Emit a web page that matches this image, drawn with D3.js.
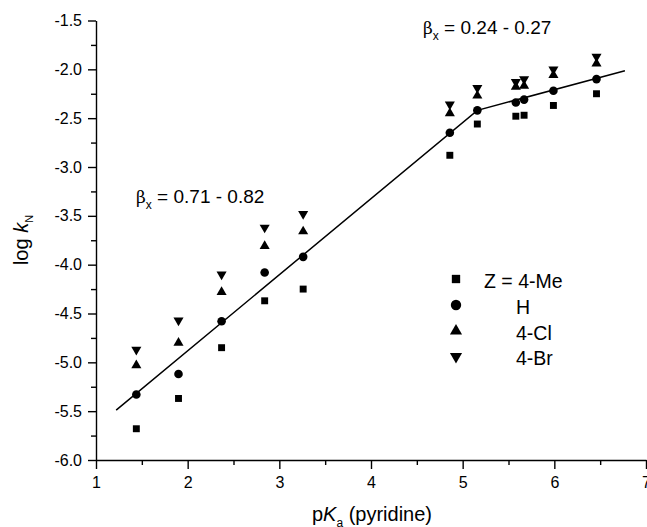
<!DOCTYPE html>
<html>
<head>
<meta charset="utf-8">
<script src="https://cdn.jsdelivr.net/npm/d3@7"></script>
<style>
  body { margin: 0; background: #fff; }
  text { font-family: Arial, "Liberation Sans", Helvetica, sans-serif; fill: #000; }
</style>
</head>
<body>
<script>
//data
var pKa = [1.44, 1.90, 2.37, 2.84, 3.26, 4.86, 5.16, 5.58, 5.67, 5.99, 6.46];
var logMe = [-5.68, -5.37, -4.85, -4.37, -4.25, -2.88, -2.56, -2.48, -2.47, -2.37, -2.25];
var logH  = [-5.33, -5.12, -4.58, -4.08, -3.92, -2.65, -2.42, -2.34, -2.31, -2.22, -2.10];
var logCl = [-5.03, -4.80, -4.28, -3.81, -3.66, -2.45, -2.27, -2.18, -2.17, -2.06, -1.94];
var logBr = [-4.87, -4.57, -4.10, -3.62, -3.48, -2.36, -2.19, -2.13, -2.10, -2.00, -1.87];

//broken line fit
var fitX = [1.22, 5.16, 6.77];
var fitY = [-5.49, -2.42, -2.015];

var seriesNames = ["Z = 4-Me", "H", "4-Cl", "4-Br"];
var xTicks = [1, 2, 3, 4, 5, 6, 7];
var yTicks = [-6.0, -5.5, -5.0, -4.5, -4.0, -3.5, -3.0, -2.5, -2.0, -1.5];

var width = 647;
var height = 527;

var svg = d3.select("body").append("svg")
    .attr("width", width)
    .attr("height", height);

var x = d3.scaleLinear().domain([1, 7]).range([96, 646]);
var y = d3.scaleLinear().domain([-6, -1.5]).range([460, 20.5]);

//plain hyphen for negative labels, like the original
var fmtY = function (d) { return d3.format(".1f")(d).replace("\u2212", "-"); };

//minor ticks first, then major axes on top
var minorX = d3.range(1.5, 7, 1);
var minorY = d3.range(-5.75, -1.5, 0.5);

svg.append("g")
    .attr("transform", "translate(0,460)")
    .call(d3.axisBottom(x).tickValues(minorX).tickSize(5).tickFormat(""))
    .call(function (g) { g.select(".domain").remove(); });

svg.append("g")
    .attr("transform", "translate(96,0)")
    .call(d3.axisLeft(y).tickValues(minorY).tickSize(5).tickFormat(""))
    .call(function (g) { g.select(".domain").remove(); });

svg.append("g")
    .attr("transform", "translate(0,460)")
    .call(d3.axisBottom(x).tickValues(xTicks).tickSize(9).tickSizeOuter(0).tickPadding(8).tickFormat(d3.format("d")));

svg.append("g")
    .attr("transform", "translate(96,0)")
    .call(d3.axisLeft(y).tickValues(yTicks).tickSize(8).tickSizeOuter(0).tickPadding(6).tickFormat(fmtY));

svg.selectAll(".domain, .tick line").attr("stroke", "#000").attr("stroke-width", 1.4);
svg.selectAll(".tick text").style("font-size", "16px").attr("fill", "#000");

//axis titles
var yTitle = svg.append("text")
    .attr("transform", "translate(28,240) rotate(-90)")
    .attr("text-anchor", "middle")
    .style("font-size", "20px");
yTitle.append("tspan").text("log ");
yTitle.append("tspan").style("font-style", "italic").text("k");
yTitle.append("tspan").attr("dy", 5).style("font-size", "11px").text("N");

var xTitle = svg.append("text")
    .attr("x", 372)
    .attr("y", 521)
    .attr("text-anchor", "middle")
    .style("font-size", "20px");
xTitle.append("tspan").text("p");
xTitle.append("tspan").style("font-style", "italic").text("K");
xTitle.append("tspan").attr("dy", 6).style("font-size", "12px").text("a");
xTitle.append("tspan").attr("dy", -6).text(" (pyridine)");

//fit line
var line = d3.line()
    .x(function (d) { return x(d[0]); })
    .y(function (d) { return y(d[1]); });

svg.append("path")
    .attr("d", line(d3.zip(fitX, fitY)))
    .attr("fill", "none")
    .attr("stroke", "#000")
    .attr("stroke-width", 1.5);

//markers
var shapes = [
    { values: logMe, type: d3.symbolSquare, size: 48, rot: 0 },
    { values: logH, type: d3.symbolCircle, size: 58, rot: 0 },
    { values: logCl, type: d3.symbolTriangle, size: 44, rot: 0 },
    { values: logBr, type: d3.symbolTriangle, size: 44, rot: 180 }
];

shapes.forEach(function (s) {
    var sym = d3.symbol().type(s.type).size(s.size);
    svg.append("g").selectAll("path")
        .data(d3.zip(pKa, s.values))
        .enter()
        .append("path")
        .attr("d", sym)
        .attr("transform", function (d) {
            return "translate(" + x(d[0]) + "," + y(d[1]) + ") rotate(" + s.rot + ")";
        })
        .attr("fill", "#000");
});

//legend
var legendY = [279, 305, 331, 356.5];
shapes.forEach(function (s, i) {
    var sym = d3.symbol().type(s.type).size(s.size * 1.45);
    svg.append("path")
        .attr("d", sym)
        .attr("transform", "translate(456," + legendY[i] + ") rotate(" + s.rot + ")")
        .attr("fill", "#000");
    svg.append("text")
        .attr("x", i == 0 ? 484 : 516)
        .attr("y", legendY[i] + 8.5)
        .style("font-size", "19.5px")
        .text(seriesNames[i]);
});

//beta annotations
function beta(px, py, label) {
    var t = svg.append("text")
        .attr("x", px)
        .attr("y", py)
        .style("font-size", "19px");
    t.append("tspan").style("font-family", "'DejaVu Serif', serif").style("font-size", "17px").text("\u03b2");
    t.append("tspan").attr("dy", 6).style("font-size", "12px").text("x");
    t.append("tspan").attr("dy", -6).text(" = " + label);
}
beta(136, 203, "0.71 - 0.82");
beta(423, 34, "0.24 - 0.27");
</script>
</body>
</html>
